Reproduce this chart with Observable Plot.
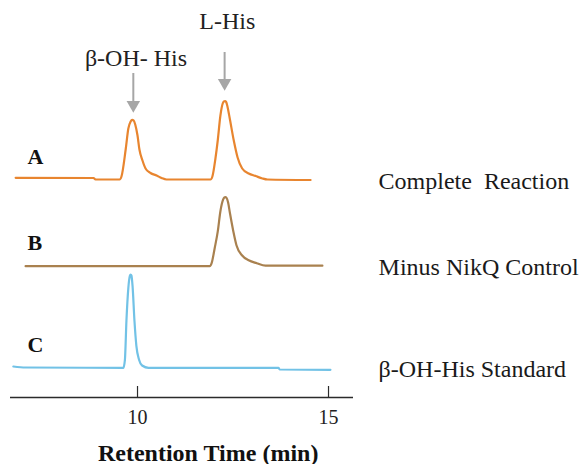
<!DOCTYPE html>
<html><head><meta charset="utf-8">
<script src="https://cdn.jsdelivr.net/npm/d3@7"></script>
<script src="https://cdn.jsdelivr.net/npm/@observablehq/plot@0.6"></script>
<style>
body{margin:0;background:#fff}
svg text{white-space:pre}
</style>
</head><body><div id="chart"></div>
<script>
// ---- data ----
const traceNames = ["A", "B", "C"];
const sampleLabels = ["Complete  Reaction", "Minus NikQ Control", "β-OH-His Standard"];
const traceColors = ["#e8852f", "#a9814f", "#72c2e6"];
const peakLabels = ["β-OH- His", "L-His"];
const peakTimes = [9.89, 12.28];
const tickValues = [10, 15];
const axisTitle = "Retention Time (min)";
// vertical offset of each trace baseline (signal units)
const offsets = [218, 131.3, 29.7];

// Trace A: complete reaction
const timeA = [6.81, 8.85, 8.90, 9.53, 9.58, 9.69, 9.76, 9.82, 9.86, 9.90, 9.94, 10.00, 10.05, 10.13, 10.21, 10.34, 10.50, 10.63, 10.76,
  11.91, 11.96, 12.04, 12.10, 12.17, 12.23, 12.26, 12.29, 12.32, 12.36, 12.41, 12.52, 12.62, 12.74, 12.91, 13.09, 13.27, 13.40, 14.53];
const signalA = [1.7, 1.5, 0, 0, 3, 30, 51, 58, 59.7, 59, 55, 44, 30, 19, 11, 6.5, 4, 1.5, 0,
  0, 3, 21, 39, 64, 76, 78, 78.3, 77.5, 72, 62, 39, 22, 11, 6, 3.5, 1, 0, -0.5];

// Trace B: minus NikQ control
const timeB = [7.07, 11.89, 11.94, 12.02, 12.10, 12.17, 12.24, 12.27, 12.30, 12.33, 12.37, 12.42, 12.51, 12.59, 12.74, 12.91, 13.12, 13.35, 14.84];
const signalB = [0, 0, 3, 18, 34.5, 55, 66.5, 68.5, 69, 68.3, 64, 53, 34.5, 21, 10.7, 6, 3, 0.5, 0.5];

// Trace C: beta-OH-His standard
const timeC = [6.75, 7.07, 9.63, 9.67, 9.71, 9.76, 9.80, 9.82, 9.84, 9.87, 9.92, 9.97, 10.04, 10.12, 10.29, 13.69, 13.72, 15.05];
const signalC = [1.3, 0.3, 0, 8, 47, 80, 92, 93.3, 92.3, 82, 47, 22, 8, 2.3, 0, 0, -1.7, -2];

// ---- build table ----
const series = [[timeA, signalA], [timeB, signalB], [timeC, signalC]];
const rows = series.flatMap(([ts, ss], i) =>
  ts.map((t, j) => ({t, v: ss[j] + offsets[i], trace: traceNames[i]})));
const traceLabelRows = traceNames.map((name, i) => ({name, label: sampleLabels[i], base: offsets[i]}));
const peakRows = peakLabels.map((label, i) => ({label, t: peakTimes[i]}));

const serif = "'Liberation Serif', 'Times New Roman', serif";

const chart = Plot.plot({
  width: 585,
  height: 464,
  marginLeft: 10,
  marginRight: 232,
  marginTop: 0,
  marginBottom: 67,
  x: {domain: [6.675, 15.654]},
  y: {domain: [0, 397], axis: null},
  color: {domain: traceNames, range: traceColors},
  style: {fontFamily: serif, background: "#fff", color: "#111", overflow: "visible"},
  marks: [
    Plot.line(rows, {x: "t", y: "v", z: "trace", stroke: "trace", strokeWidth: 2.2, curve: "monotone-x"}),
    Plot.ruleY([0], {stroke: "#2b2b2b", strokeWidth: 1.5}),
    Plot.ruleX(tickValues, {y1: 0, y2: 11, stroke: "#2b2b2b", strokeWidth: 1.2}),
    Plot.axisX({ticks: tickValues, tickSize: 0, tickPadding: 12, fontSize: 20, label: null, tickFormat: d => String(d), fill: "#222"}),
    Plot.text([axisTitle], {x: 11.85, y: -63, text: d => d, fontSize: 24, fontWeight: "bold", lineAnchor: "bottom", fill: "#111"}),
    // trace letters
    Plot.text(traceLabelRows, {x: 7.12, y: d => d.base + 16, text: "name", fontSize: 22, fontWeight: "bold", textAnchor: "start", lineAnchor: "bottom", fill: "#111"}),
    // sample labels on the right
    Plot.text(traceLabelRows, {x: 16.31, y: d => d.base - 9, text: "label", fontSize: 24, textAnchor: "start", lineAnchor: "bottom", fill: "#1a1a1a"}),
    // peak annotations
    Plot.text(peakRows, {x: d => d.t + 0.07, y: (d, i) => i === 0 ? 332 : 369, text: "label", fontSize: 24, lineAnchor: "bottom", fill: "#222"}),
    Plot.ruleX(peakRows, {x: "t", y1: (d, i) => i === 0 ? 296 : 317, y2: (d, i) => i === 0 ? 324 : 345, stroke: "#a6a6a6", strokeWidth: 2}),
    Plot.dot(peakRows, {x: "t", y: (d, i) => i === 0 ? 292.5 : 314.5, symbol: "triangle", rotate: 180, r: 5, fill: "#a6a6a6", stroke: "none"})
  ]
});
document.getElementById("chart").appendChild(chart);
</script>
</body></html>
